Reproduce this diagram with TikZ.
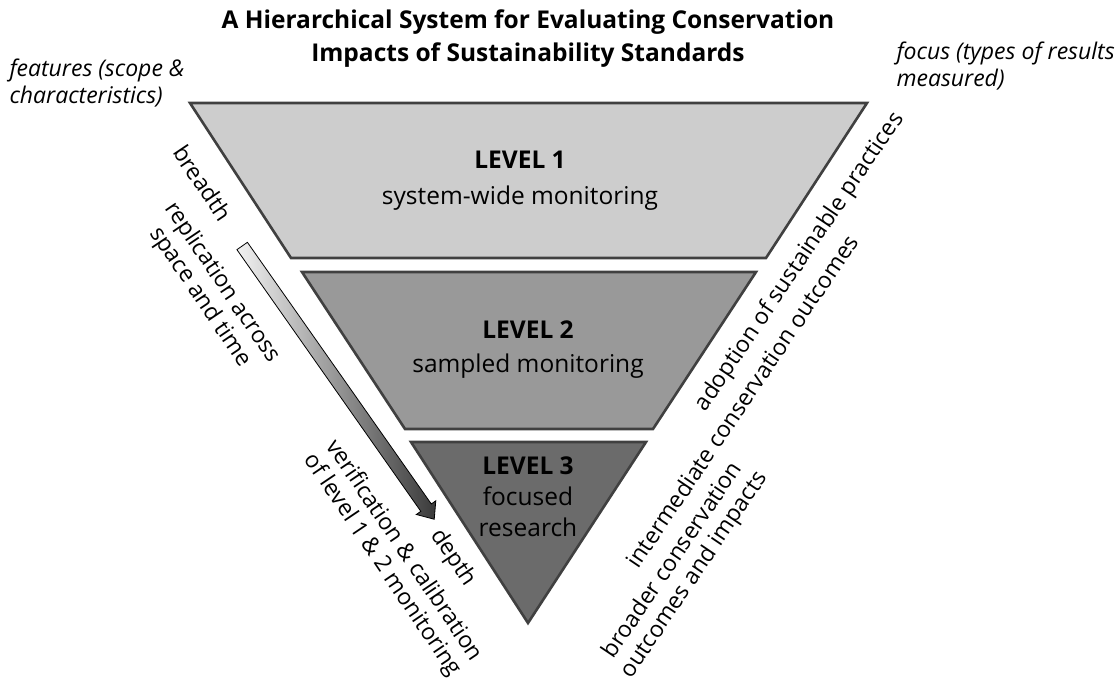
\documentclass[tikz,border=0pt]{standalone}
\usepackage{fontspec}
\setmainfont{Open Sans}
\usetikzlibrary{shapes.arrows}
\definecolor{edgegray}{HTML}{404040}
\definecolor{lvlone}{HTML}{CDCDCD}
\definecolor{lvltwo}{HTML}{999999}
\definecolor{lvlthree}{HTML}{6B6B6B}
\definecolor{arrowlight}{HTML}{F2F2F2}
\definecolor{arrowdark}{HTML}{3A3A3A}
\begin{document}
\begin{tikzpicture}[x=1pt,y=-1pt,
  level/.style={draw=edgegray, line width=2.6pt, line join=miter},
  lvltext/.style={align=center, text=black},
  headfont/.style={font=\bfseries\fontsize{25}{34}\selectfont},
  sidetext/.style={align=center, font=\fontsize{23}{26}\selectfont, text=black},
  corner/.style={align=left, font=\itshape\fontsize{23}{27}\selectfont, text=black}]
\useasboundingbox (0,0) rectangle (1119,680);

% levels
\draw[level, fill=lvlone] (190,103) -- (867,103) -- (766,258) -- (291,258) -- cycle;
\draw[level, fill=lvltwo] (302,272) -- (756,272) -- (653,429) -- (405,429) -- cycle;
\draw[level, fill=lvlthree] (411,442) -- (646,442) -- (528,623) -- cycle;

% gradient arrow
\node[single arrow, draw=black, line width=0.8pt, left color=arrowlight, right color=arrowdark,
  inner sep=6pt, minimum height=334pt, single arrow head extend=5.5pt,
  single arrow tip angle=80, rotate=-54.9] (grad) at (336,379.5) {};

% title
\node[align=center, font=\bfseries\fontsize{24.5}{33}\selectfont] (title) at (528,38.5)
  {A Hierarchical System for Evaluating Conservation\\Impacts of Sustainability Standards};

% corner labels
\node[corner, anchor=west] (features) at (6,83) {features (scope \&\\characteristics)};
\node[corner, anchor=west] (focus) at (893,66) {focus (types of results\\measured)};

% level labels
\node[lvltext, font=\fontsize{24.5}{36}\selectfont] (l1) at (520,181) {\textbf{LEVEL 1}\\system-wide monitoring};
\node[lvltext, font=\fontsize{24.5}{34}\selectfont] (l2) at (528,350) {\textbf{LEVEL 2}\\sampled monitoring};
\node[lvltext, font=\fontsize{24.5}{31}\selectfont] (l3) at (528,497) {\textbf{LEVEL 3}\\focused\\research};

% left side labels
\node[sidetext, rotate=-56] (breadth) at (203,183) {breadth};
\node[sidetext, rotate=-56] (replic) at (211,290) {replication across\\space and time};
\node[sidetext, rotate=-56] (verif) at (393,558) {verification \& calibration\\of level 1 \& 2 monitoring};
\node[sidetext, rotate=-56] (depth) at (453,558) {depth};

% right side labels
\node[sidetext, rotate=56] (adopt) at (800,262) {adoption of sustainable practices};
\node[sidetext, rotate=56] (inter) at (742,401) {intermediate conservation outcomes};
\node[sidetext, rotate=56] (broad) at (684,568) {broader conservation\\outcomes and impacts};
\end{tikzpicture}
\end{document}
